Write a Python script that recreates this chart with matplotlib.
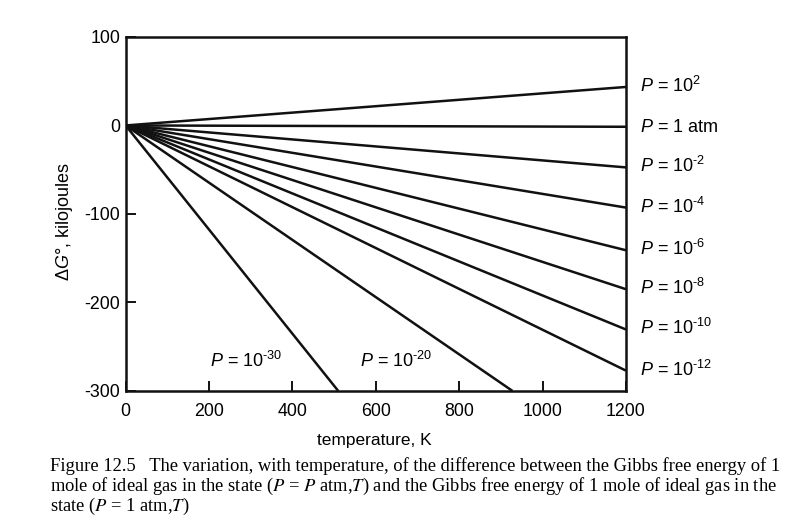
import numpy as np
import matplotlib
matplotlib.use("Agg")
import matplotlib.pyplot as plt

plt.rcParams["font.family"] = ["Liberation Sans", "DejaVu Sans"]
plt.rcParams["mathtext.fontset"] = "custom"
plt.rcParams["mathtext.rm"] = "Liberation Sans"
plt.rcParams["mathtext.it"] = "Liberation Sans:italic"
plt.rcParams["axes.unicode_minus"] = False

# end points of dG = RT ln P lines, all starting at the origin
labels = [r"$P$ = 10$^{2}$", r"$P$ = 1 atm", r"$P$ = 10$^{\text{-2}}$",
          r"$P$ = 10$^{\text{-4}}$", r"$P$ = 10$^{\text{-6}}$", r"$P$ = 10$^{\text{-8}}$",
          r"$P$ = 10$^{\text{-10}}$", r"$P$ = 10$^{\text{-12}}$",
          r"$P$ = 10$^{\text{-20}}$", r"$P$ = 10$^{\text{-30}}$"]
end_T = [1200, 1200, 1200, 1200, 1200, 1200, 1200, 1200, 928, 510]
end_dG = [43.5, -1.5, -47.4, -92.8, -141, -185, -230.5, -277, -300, -300]

# where the two steep lines are labelled (T, dG)
inner_pos = {8: (562, -272.5), 9: (202, -272.5)}

xticks = [0, 200, 400, 600, 800, 1000, 1200]
yticks = [100, 0, -100, -200, -300]

fig = plt.figure(figsize=(8.03, 5.30), dpi=100)
ax = fig.add_axes([0.1565, 0.2623, 0.623, 0.668])

for i, lab in enumerate(labels):
    ax.plot([0, end_T[i]], [0, end_dG[i]], color="#111111", lw=1.8,
            solid_capstyle="butt")
    if i in inner_pos:
        ax.text(inner_pos[i][0], inner_pos[i][1], lab, fontsize=13,
                va="baseline", ha="left")
    else:
        ax.annotate(lab, xy=(1200, end_dG[i]), xytext=(10, -3.6),
                    textcoords="offset points", fontsize=13,
                    va="baseline", ha="left", annotation_clip=False)

ax.set_xlim(0, 1200)
ax.set_ylim(-300, 100)
ax.set_xticks(xticks)
ax.set_xticklabels([str(t) for t in xticks])
ax.set_yticks(yticks)
ax.set_yticklabels([str(t) for t in yticks])
ax.tick_params(direction="in", length=7, width=1.4, labelsize=12.8, color="#111111")
ax.tick_params(axis="x", pad=9)
ax.tick_params(axis="y", pad=4)
for s in ax.spines.values():
    s.set_linewidth(1.8)
    s.set_color("#111111")

ax.set_xlabel("temperature, K", fontsize=12.5)
ax.xaxis.set_label_coords(0.498, -0.119)
ax.set_ylabel(r"Δ$G$°, kilojoules", fontsize=13)
ax.yaxis.set_label_coords(-0.101, 0.477)

cap_kw = dict(fontsize=13.3, family="Liberation Serif", math_fontfamily="stix",
              ha="left", va="baseline")
fig.text(50 / 803, 1 - 471 / 530,
         "Figure 12.5   The variation, with temperature, of the difference "
         "between the Gibbs free energy of 1", **cap_kw)
fig.text(50 / 803, 1 - 491 / 530,
         "mole of ideal gas in the state ($P$ = $P$ atm,$T$) and the Gibbs "
         "free energy of 1 mole of ideal gas in the", **cap_kw)
fig.text(50 / 803, 1 - 511 / 530, "state ($P$ = 1 atm,$T$)", **cap_kw)

fig.savefig("out.png", dpi=100)
